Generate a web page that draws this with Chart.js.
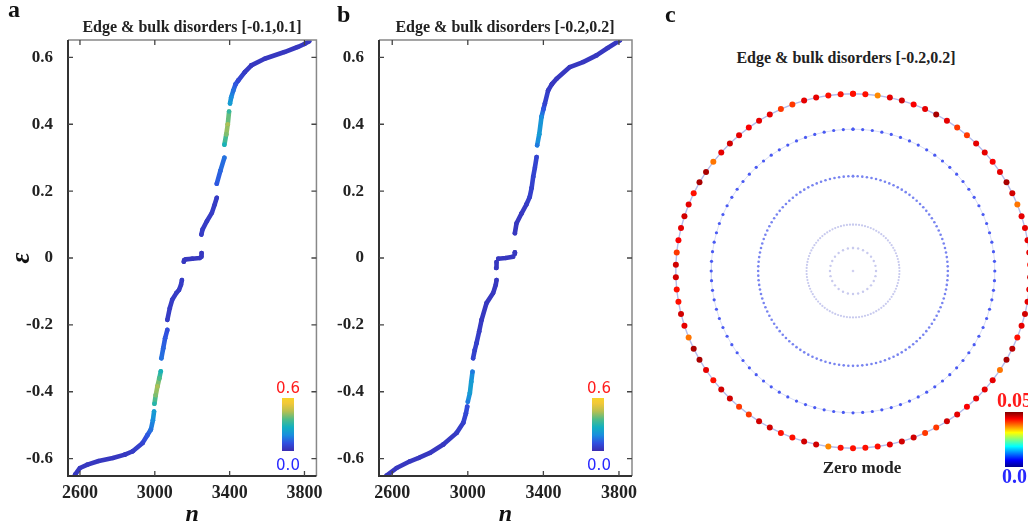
<!DOCTYPE html>
<html lang="en">
<head>
<meta charset="utf-8">
<title>Edge &amp; bulk disorders</title>
<script src="https://cdn.jsdelivr.net/npm/chart.js@4.4.1/dist/chart.umd.min.js"></script>
<style>
  body { margin: 0; width: 1028px; height: 530px; overflow: hidden; background: #fff; position: relative; font-family: "Liberation Serif", serif; }
  .box { position: absolute; }
  .letter { position: absolute; font-weight: bold; font-size: 24px; line-height: 24px; color: #111; }
  .ttl { position: absolute; font-weight: bold; font-size: 16px; line-height: 16px; color: #222; white-space: nowrap; transform: translateX(-50%); }
  .cbt { position: absolute; font-family: "DejaVu Sans", sans-serif; font-size: 15px; line-height: 15px; transform: translateX(-50%); }
  .cbc { position: absolute; font-weight: bold; font-size: 20px; line-height: 20px; }
  .bar { position: absolute; }
</style>
</head>
<body>

<div class="box" style="left:0;top:0;width:330px;height:530px"><canvas id="chartA"></canvas></div>
<div class="box" style="left:330px;top:0;width:330px;height:530px"><canvas id="chartB"></canvas></div>
<div class="box" style="left:662px;top:80px;width:382px;height:382px"><canvas id="chartC"></canvas></div>

<div class="letter" style="left:8px;top:-3px">a</div>
<div class="letter" style="left:337px;top:2px">b</div>
<div class="letter" style="left:665px;top:2px">c</div>

<div class="ttl" style="left:192px;top:19px">Edge &amp; bulk disorders [-0.1,0.1]</div>
<div class="ttl" style="left:505px;top:19px">Edge &amp; bulk disorders [-0.2,0.2]</div>
<div class="ttl" style="left:846px;top:50px">Edge &amp; bulk disorders [-0.2,0.2]</div>
<div class="ttl" style="left:862px;top:459px;font-size:17px;line-height:17px">Zero mode</div>

<!-- colour bars -->
<div class="cbt" style="left:288px;top:381px;color:#ff1a1a">0.6</div>
<div class="bar" id="barA" style="left:282px;top:398px;width:12px;height:53px"></div>
<div class="cbt" style="left:288px;top:458px;color:#2828ff">0.0</div>

<div class="cbt" style="left:599px;top:381px;color:#ff1a1a">0.6</div>
<div class="bar" id="barB" style="left:592px;top:398px;width:12px;height:53px"></div>
<div class="cbt" style="left:599px;top:458px;color:#2828ff">0.0</div>

<div class="cbc" style="left:997px;top:390px;color:#ff1a1a">0.05</div>
<div class="bar" id="barC" style="left:1005px;top:412px;width:18px;height:55px"></div>
<div class="cbc" style="left:1002px;top:466px;color:#2828ff">0.0</div>

<script>
// ---- data ----
const xTicks = [2600, 3000, 3400, 3800];
const yTicks = [-0.6, -0.4, -0.2, 0, 0.2, 0.4, 0.6];

// panel a: level index, energy, weight (null = gap in the spectrum)
const nA = [2574, 2600, 2640, 2700, 2776, 2840, 2882, 2935, 2960, 2979, 2990, 2996, null,
  2998, 3005, 3014, 3024, 3032, null,
  3035, 3045, 3055, 3067, null,
  3067, 3080, 3093, 3115, 3129, 3140, 3145, null,
  3155, 3157, 3165, 3200, 3240, 3248, 3250, null,
  3249, 3255, 3278, 3305, 3320, 3331, null,
  3331, 3350, 3372, null,
  3372, 3382, 3390, 3397, null,
  3402, 3408, 3419, 3432, 3446, 3481, 3516, 3587, 3693, 3763, 3800, 3825];
const epsA = [-0.648, -0.628, -0.618, -0.607, -0.598, -0.588, -0.578, -0.553, -0.530, -0.513, -0.485, -0.459, null,
  -0.436, -0.410, -0.384, -0.360, -0.339, null,
  -0.300, -0.270, -0.240, -0.215, null,
  -0.185, -0.150, -0.125, -0.105, -0.096, -0.080, -0.066, null,
  -0.011, -0.006, -0.004, -0.002, 0.000, 0.004, 0.015, null,
  0.070, 0.085, 0.110, 0.135, 0.160, 0.180, null,
  0.222, 0.260, 0.300, null,
  0.339, 0.370, 0.400, 0.438, null,
  0.462, 0.480, 0.500, 0.520, 0.531, 0.556, 0.576, 0.596, 0.616, 0.631, 0.640, 0.648];
const wA = [0.03, 0.03, 0.03, 0.03, 0.03, 0.03, 0.04, 0.06, 0.10, 0.14, 0.18, 0.22, null,
  0.30, 0.40, 0.44, 0.36, 0.28, null,
  0.14, 0.12, 0.10, 0.08, null,
  0.04, 0.04, 0.04, 0.04, 0.04, 0.04, 0.04, null,
  0.03, 0.03, 0.03, 0.03, 0.03, 0.03, 0.03, null,
  0.04, 0.04, 0.04, 0.04, 0.04, 0.04, null,
  0.10, 0.12, 0.14, null,
  0.28, 0.40, 0.44, 0.32, null,
  0.22, 0.18, 0.14, 0.10, 0.07, 0.04, 0.03, 0.03, 0.03, 0.03, 0.03, 0.03];

// panel b
const nB = [2570, 2623, 2694, 2740, 2799, 2870, 2941, 2976, 2990, 2997, null,
  3000, 3011, 3018, 3025, null,
  3028, 3037, 3046, 3060, 3073, 3099, 3134, 3148, 3152, null,
  3150, 3152, null,
  3161, 3200, 3240, null,
  3249, 3249, null,
  3249, 3258, 3284, 3310, 3328, 3338, 3346, 3355, 3364, null,
  3367, 3378, 3390, 3400, 3408, 3425, 3445, 3470, 3540, 3610, 3681, 3740, 3805];
const epsB = [-0.651, -0.628, -0.608, -0.598, -0.583, -0.558, -0.523, -0.493, -0.465, -0.444, null,
  -0.430, -0.404, -0.370, -0.340, null,
  -0.300, -0.275, -0.255, -0.220, -0.185, -0.135, -0.105, -0.080, -0.066, null,
  -0.030, -0.012, null,
  -0.002, 0.000, 0.004, null,
  0.013, 0.017, null,
  0.074, 0.104, 0.133, 0.160, 0.183, 0.210, 0.243, 0.270, 0.302, null,
  0.337, 0.370, 0.422, 0.445, 0.462, 0.501, 0.520, 0.536, 0.571, 0.586, 0.606, 0.628, 0.651];
const wB = [0.03, 0.03, 0.03, 0.03, 0.03, 0.03, 0.04, 0.05, 0.07, 0.08, null,
  0.15, 0.22, 0.22, 0.15, null,
  0.06, 0.05, 0.05, 0.04, 0.03, 0.03, 0.03, 0.03, 0.03, null,
  0.03, 0.03, null,
  0.03, 0.03, 0.03, null,
  0.03, 0.03, null,
  0.03, 0.03, 0.03, 0.04, 0.05, 0.05, 0.06, 0.06, 0.06, null,
  0.15, 0.22, 0.18, 0.10, 0.06, 0.04, 0.03, 0.03, 0.03, 0.03, 0.03, 0.03, 0.03];

// panel c: zero-mode weight on the edge ring, counter-clockwise from the top
const edgeW = [0.043, 0.043, 0.043, 0.045, 0.045, 0.041, 0.041, 0.045, 0.045, 0.044, 0.045, 0.046, 0.045, 0.038, 0.048, 0.048, 0.043, 0.045, 0.046, 0.045, 0.044, 0.041, 0.046,
  0.046, 0.043, 0.043, 0.046, 0.045, 0.038, 0.048, 0.048, 0.045, 0.043, 0.046, 0.046, 0.041, 0.041, 0.046, 0.046, 0.043, 0.043, 0.046, 0.046, 0.037, 0.043, 0.043,
  0.043, 0.043, 0.045, 0.046, 0.046, 0.041, 0.041, 0.046, 0.045, 0.044, 0.045, 0.045, 0.045, 0.038, 0.048, 0.047, 0.043, 0.045, 0.046, 0.045,
  0.045, 0.046, 0.043, 0.045,
  0.045, 0.045, 0.045, 0.038, 0.046, 0.048, 0.045, 0.044, 0.045, 0.045, 0.041, 0.041, 0.045, 0.048, 0.045, 0.044, 0.046, 0.045, 0.037, 0.043];
const edgeR = 1.0;
// inner rings (weight ~0)
const ringR = [0.80, 0.535, 0.262, 0.13];
const ringCount = [92, 128, 96, 28];

// ---- colours ----
const parula = [[0, '#3a2cb0'], [0.15, '#3050e0'], [0.3, '#1a8ede'], [0.45, '#12b0c0'], [0.6, '#50bc88'], [0.75, '#b8c050'], [0.9, '#f2c838'], [1, '#f8d428']];
const jet = [[0, '#00008f'], [0.125, '#0000ff'], [0.375, '#00ffff'], [0.625, '#ffff00'], [0.875, '#ff0000'], [1, '#800000']];

function hex(h) { return [1, 3, 5].map(i => parseInt(h.slice(i, i + 2), 16)); }
function cmap(stops, t) {
  t = Math.max(0, Math.min(1, t));
  for (let i = 1; i < stops.length; i++) {
    if (t <= stops[i][0]) {
      const [t0, c0] = stops[i - 1], [t1, c1] = stops[i];
      const f = (t - t0) / (t1 - t0), a = hex(c0), b = hex(c1);
      return 'rgb(' + a.map((v, k) => Math.round(v + (b[k] - v) * f)).join(',') + ')';
    }
  }
  return stops[stops.length - 1][1];
}
function grad(stops) {
  return 'linear-gradient(to top,' + stops.map(s => s[1] + ' ' + (s[0] * 100) + '%').join(',') + ')';
}
document.getElementById('barA').style.background = grad(parula);
document.getElementById('barB').style.background = grad(parula);
document.getElementById('barC').style.background = grad(jet);

// ---- frame with inward ticks ----
const framePlugin = {
  id: 'frame',
  afterDraw(chart) {
    const {ctx, chartArea: a, scales: {x, y}} = chart;
    ctx.save();
    ctx.lineWidth = 1.5;
    ctx.strokeStyle = '#888';
    ctx.beginPath();
    ctx.moveTo(a.left, a.top); ctx.lineTo(a.right, a.top); ctx.lineTo(a.right, a.bottom);
    ctx.stroke();
    ctx.lineWidth = 2;
    ctx.strokeStyle = '#333';
    ctx.beginPath();
    ctx.moveTo(a.left, a.top); ctx.lineTo(a.left, a.bottom); ctx.lineTo(a.right, a.bottom);
    ctx.stroke();
    ctx.lineWidth = 1.3;
    ctx.strokeStyle = '#444';
    ctx.beginPath();
    xTicks.forEach(v => {
      const px = x.getPixelForValue(v);
      ctx.moveTo(px, a.bottom); ctx.lineTo(px, a.bottom - 5);
      ctx.moveTo(px, a.top); ctx.lineTo(px, a.top + 5);
    });
    yTicks.forEach(v => {
      const py = y.getPixelForValue(v);
      ctx.moveTo(a.left, py); ctx.lineTo(a.left + 5, py);
      ctx.moveTo(a.right, py); ctx.lineTo(a.right - 5, py);
    });
    ctx.stroke();
    ctx.restore();
  }
};

function spectrumChart(id, ns, eps, ws, xmin, xmax, yWidth, padRight, withTitle) {
  const pts = ns.map((n, i) => ({x: n, y: eps[i]}));
  const col = w => cmap(parula, (w || 0) / 0.6);
  return new Chart(document.getElementById(id), {
    type: 'scatter',
    data: {
      datasets: [{
        data: pts,
        showLine: true,
        spanGaps: false,
        borderWidth: 4.6,
        borderCapStyle: 'round',
        borderJoinStyle: 'round',
        pointRadius: 2.3,
        pointBorderWidth: 0,
        pointBackgroundColor: ctx => col(ws[ctx.dataIndex]),
        segment: {
          borderColor: ctx => col(((ws[ctx.p0DataIndex] || 0) + (ws[ctx.p1DataIndex] || 0)) / 2)
        }
      }]
    },
    options: {
      responsive: true,
      maintainAspectRatio: false,
      animation: false,
      layout: {padding: {top: 40, right: padRight, left: 0, bottom: 0}},
      plugins: {legend: {display: false}, tooltip: {enabled: false}},
      scales: {
        x: {
          type: 'linear', min: xmin, max: xmax,
          afterBuildTicks: s => { s.ticks = xTicks.map(v => ({value: v})); },
          afterFit: s => { s.height = 54; },
          grid: {display: false, drawTicks: false},
          border: {display: false},
          ticks: {color: '#222', padding: 7, font: {family: 'Liberation Serif', weight: 'bold', size: 18}, callback: v => String(v)},
          title: {display: true, text: 'n', color: '#111', padding: {top: 0, bottom: 1},
            font: {family: 'Liberation Serif', style: 'italic', weight: 'bold', size: 24}}
        },
        y: {
          type: 'linear', min: -0.652, max: 0.652,
          afterBuildTicks: s => { s.ticks = yTicks.map(v => ({value: v})); },
          afterFit: s => { s.width = yWidth; },
          grid: {display: false, drawTicks: false},
          border: {display: false},
          ticks: {color: '#222', padding: 15, font: {family: 'Liberation Serif', weight: 'bold', size: 17},
            callback: v => v === 0 ? '0' : v.toFixed(1)},
          title: {display: withTitle, text: 'ε', color: '#111', padding: {top: 6, bottom: 0},
            font: {family: 'Liberation Serif', style: 'italic', weight: 'bold', size: 27}}
        }
      }
    },
    plugins: [framePlugin]
  });
}

spectrumChart('chartA', nA, epsA, wA, 2536, 3864, 68, 11, true);
spectrumChart('chartB', nB, epsB, wB, 2530, 3869, 49, 28, false);

// ---- panel c: real-space zero mode ----
function ringPoints(r, count) {
  const out = [];
  for (let k = 0; k < count; k++) {
    const t = Math.PI / 2 + 2 * Math.PI * k / count;
    out.push({x: r * Math.cos(t), y: r * Math.sin(t)});
  }
  return out;
}
const edgePts = ringPoints(edgeR, edgeW.length);
const ringStyle = [
  {color: '#4a5af2', size: 1.6, line: 'rgba(200,206,244,0.7)'},
  {color: '#7884f0', size: 1.3, line: 'rgba(0,0,0,0)'},
  {color: '#c8caee', size: 1.1, line: 'rgba(0,0,0,0)'},
  {color: '#c8caee', size: 1.2, line: 'rgba(0,0,0,0)'}
];
const ringSets = ringR.map((r, i) => {
  const p = ringPoints(r, ringCount[i]);
  return {
    data: p.concat([p[0]]), showLine: true, borderColor: ringStyle[i].line, borderWidth: 1,
    pointRadius: ringStyle[i].size, pointBorderWidth: 0, pointBackgroundColor: ringStyle[i].color
  };
});

new Chart(document.getElementById('chartC'), {
  type: 'scatter',
  data: {
    datasets: [
      ...ringSets,
      {data: [{x: 0, y: 0}], pointRadius: 1.3, pointBorderWidth: 0, pointBackgroundColor: '#d0d0f0'},
      {
        data: edgePts.concat([edgePts[0]]), showLine: true, borderColor: '#b4bcec', borderWidth: 1.4,
        pointRadius: 3, pointBorderWidth: 0,
        pointBackgroundColor: ctx => cmap(jet, edgeW[ctx.dataIndex % edgeW.length] / 0.05)
      },
      {data: edgePts, pointRadius: 0.9, pointBorderWidth: 0, pointBackgroundColor: '#3040d8'}
    ]
  },
  options: {
    responsive: true,
    maintainAspectRatio: false,
    animation: false,
    layout: {padding: 0},
    plugins: {legend: {display: false}, tooltip: {enabled: false}},
    scales: {
      x: {type: 'linear', min: -1.055, max: 1.055, display: false},
      y: {type: 'linear', min: -1.055, max: 1.055, display: false}
    }
  }
});
</script>
</body>
</html>
